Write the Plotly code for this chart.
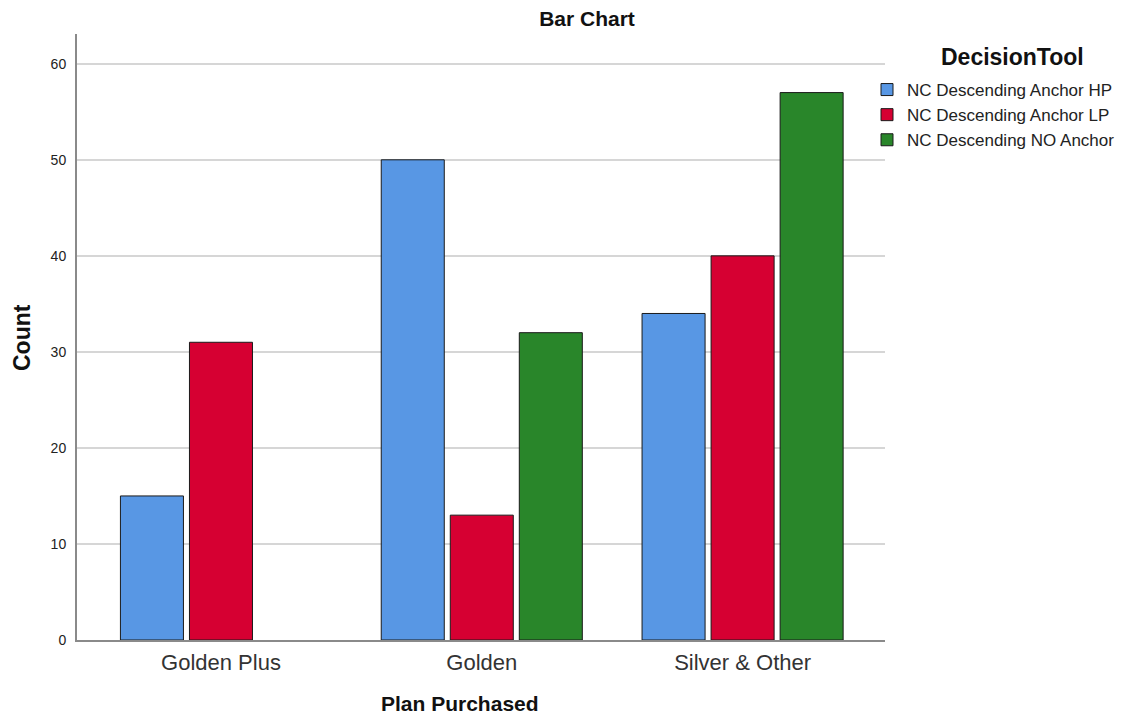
import plotly.graph_objects as go

categories = ["Golden Plus", "Golden", "Silver & Other"]
series_names = ["NC Descending Anchor HP", "NC Descending Anchor LP", "NC Descending NO Anchor"]
hp_values = [15, 50, 34]
lp_values = [31, 13, 40]
no_values = [None, 32, 57]
colors = ["#5897e4", "#d60032", "#29862a"]
y_ticks = [0, 10, 20, 30, 40, 50, 60]

FONT = "Liberation Sans, Arial, sans-serif"

# page offset (body margin) in rendered pixels
OFF = 8
PL, PR, PT, PB = 77, 885, 34, 640  # plot area in rendered pixels
PW, PH = PR - PL, PB - PT


def px_x(X):
    return (X - PL) / PW


def px_y(Y):
    return (PB - Y) / PH


fig = go.Figure()
x_pos = list(range(len(categories)))
for name, vals, col in zip(series_names, [hp_values, lp_values, no_values], colors):
    fig.add_trace(go.Bar(
        x=x_pos, y=vals, name=name,
        marker=dict(color=col, line=dict(color="#1a1a1a", width=1)),
    ))

fig.update_layout(
    width=1143, height=715,
    margin=dict(l=PL - OFF, r=1143 + OFF - PR, t=PT - OFF, b=715 + OFF - PB),
    paper_bgcolor="white", plot_bgcolor="white",
    barmode="group", bargap=0.206, bargroupgap=0.087,
    font=dict(family=FONT, color="#222"),
    title=dict(text="<b>Bar Chart</b>", x=(587 - OFF) / 1143, xanchor="center",
               y=1 - (19 - OFF) / 715, yanchor="middle", xref="container", yref="container",
               font=dict(size=21, color="#111")),
    legend=dict(
        x=px_x(867), xanchor="left", y=px_y(72), yanchor="top",
        font=dict(size=17, color="#222"),
        bgcolor="rgba(0,0,0,0)",
        traceorder="normal",
    ),
    showlegend=True,
)

fig.update_xaxes(
    tickmode="array", tickvals=x_pos, ticktext=categories,
    range=[-0.552, 2.546],
    showline=True, linecolor="#8a8a8a", linewidth=2,
    showgrid=False, zeroline=False, ticks="", ticklabelstandoff=2,
    tickfont=dict(size=22, color="#333"),
)
fig.update_yaxes(
    range=[0, 63.1], tickmode="array", tickvals=y_ticks,
    showline=True, linecolor="#8a8a8a", linewidth=2,
    showgrid=True, gridcolor="#d6d6d6", gridwidth=2,
    zeroline=False, ticks="", ticklabelstandoff=6,
    tickfont=dict(size=14, color="#222"),
)

fig.add_annotation(text="<b>DecisionTool</b>", x=px_x(1012), y=px_y(57), xref="paper", yref="paper",
                   showarrow=False, xanchor="center", yanchor="middle",
                   font=dict(size=23, color="#111"))
fig.add_annotation(text="<b>Count</b>", x=px_x(22), y=px_y(337), xref="paper", yref="paper",
                   showarrow=False, textangle=-90, xanchor="center", yanchor="middle",
                   font=dict(size=23, color="#111"))
fig.add_annotation(text="<b>Plan Purchased</b>", x=px_x(460), y=px_y(703),
                   xref="paper", yref="paper", showarrow=False,
                   xanchor="center", yanchor="middle", font=dict(size=21, color="#111"))

fig.write_html("out.html")
